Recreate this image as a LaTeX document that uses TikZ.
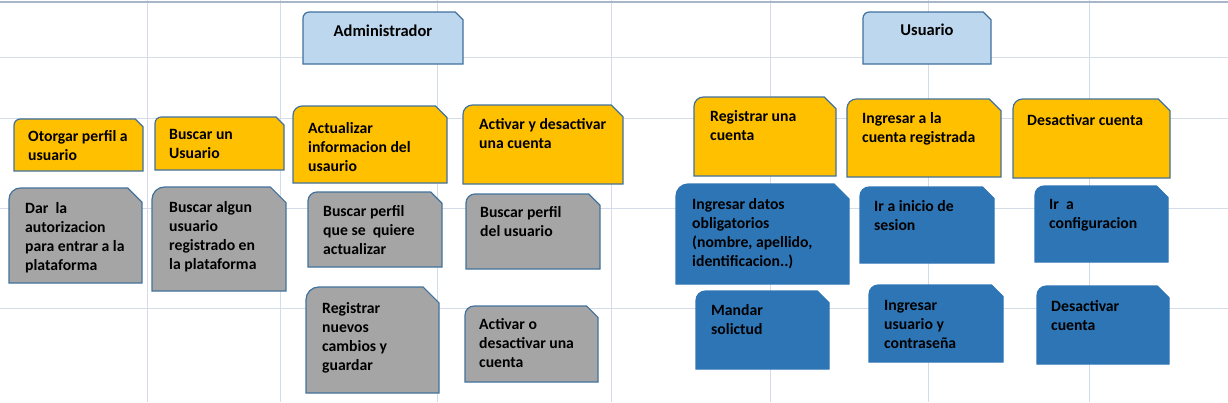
\documentclass[tikz,border=0pt]{standalone}
\usepackage{fontspec}
\setmainfont{Carlito}
\usetikzlibrary{positioning}

\definecolor{azulclaro}{HTML}{BDD7EE}
\definecolor{oro}{HTML}{FFC000}
\definecolor{gris}{HTML}{A5A5A5}
\definecolor{azul}{HTML}{2E75B6}
\definecolor{borde}{HTML}{41719C}
\definecolor{rejilla}{HTML}{D4DCE8}
\definecolor{margen}{HTML}{A9B5C8}

\tikzset{
  rol/.style={fill=azulclaro, draw=borde},
  caso/.style={fill=oro, draw=borde},
  paso/.style={fill=gris, draw=borde},
  pasou/.style={fill=azul, draw=azul},
  texto/.style={anchor=north west, yshift=9.3pt, align=left, inner sep=0pt,
    font=\fontsize{15.7}{19}\selectfont\bfseries, execute at begin node=\strut},
  titulo/.style={anchor=base, inner sep=0pt, font=\fontsize{16.5}{19}\selectfont\bfseries},
}

% caja con esquina cortada: estilo, x1, y1, x2, y2
\newcommand{\caja}[5]{%
  \pgfmathsetmacro{\corte}{0.15*min(#4-#2,#5-#3)}%
  \draw[#1, line width=1.2pt] (#2,#5) [rounded corners=0.8*\corte] -- (#2,#3) [sharp corners] -- (#4-\corte,#3) -- (#4,#3+\corte) -- (#4,#5) -- cycle;
}

\begin{document}
\begin{tikzpicture}[x=1pt, y=-1pt]
\useasboundingbox (0,0) rectangle (1228,402);

% rejilla
\foreach \gx in {147,280,437,611,770,928,1089}
  \draw[rejilla, line width=1pt] (\gx,0) -- (\gx,402);
\foreach \gy in {57,118,208,308}
  \draw[rejilla, line width=1pt] (0,\gy) -- (1228,\gy);
\draw[margen, line width=2pt] (0,2) -- (1228,2);

% roles
\caja{rol}{303}{12}{463}{64}
\caja{rol}{863}{12}{991}{64}
\node[titulo] (admin) at (383,36) {Administrador};
\node[titulo] (usuario) at (927,35) {Usuario};

% casos del administrador
\caja{caso}{14}{119}{143}{171}
\caja{caso}{155}{117}{284}{170}
\caja{caso}{293}{106}{447}{183}
\caja{caso}{463}{105}{623}{184}
\node[texto] (otorgar) at (28,140) {Otorgar perfil a\\usuario};
\node[texto] (buscar) at (169,138) {Buscar un\\Usuario};
\node[texto] (actualizar) at (308,132) {Actualizar\\informacion del\\usaurio};
\node[texto] (activar) at (479,128) {Activar y desactivar\\una cuenta};

\caja{paso}{9}{188}{142}{283}
\caja{paso}{152}{187}{286}{291}
\caja{paso}{308}{192}{442}{267}
\caja{paso}{466}{194}{600}{269}
\caja{paso}{306}{287}{439}{393}
\caja{paso}{465}{306}{598}{382}
\node[texto] (dar) at (25,212) {Dar\ \ la\\autorizacion\\para entrar a la\\plataforma};
\node[texto] (algun) at (169,211) {Buscar algun\\usuario\\registrado en\\la plataforma};
\node[texto] (perfilque) at (323,215) {Buscar perfil\\que se\ \ quiere\\actualizar};
\node[texto] (perfildel) at (480,216) {Buscar perfil\\del usuario};
\node[texto] (cambios) at (322,312) {Registrar\\nuevos\\cambios y\\guardar};
\node[texto] (activaro) at (479,328) {Activar o\\desactivar una\\cuenta};

% casos del usuario
\caja{caso}{694}{97}{836}{176}
\caja{caso}{847}{99}{1001}{177}
\caja{caso}{1013}{99}{1170}{178}
\node[texto] (registrar) at (710,120) {Registrar una\\cuenta};
\node[texto] (ingresar) at (862,122) {Ingresar a la\\cuenta registrada};
\node[texto] (desactivar) at (1027,121) {Desactivar cuenta};

\caja{pasou}{676}{184}{849}{284}
\caja{pasou}{696}{291}{829}{369}
\caja{pasou}{860}{187}{994}{263}
\caja{pasou}{869}{285}{1003}{362}
\caja{pasou}{1035}{186}{1168}{262}
\caja{pasou}{1037}{286}{1169}{364}
\node[texto] (datos) at (692,208) {Ingresar datos\\obligatorios\\(nombre, apellido,\\identificacion..)};
\node[texto] (mandar) at (711,314) {Mandar\\solictud};
\node[texto] (inicio) at (874,210) {Ir a inicio de\\sesion};
\node[texto] (clave) at (884,309) {Ingresar\\usuario y\\contraseña};
\node[texto] (config) at (1049,208) {Ir\ \ a\\configuracion};
\node[texto] (desactivaru) at (1051,310) {Desactivar\\cuenta};

\end{tikzpicture}
\end{document}
